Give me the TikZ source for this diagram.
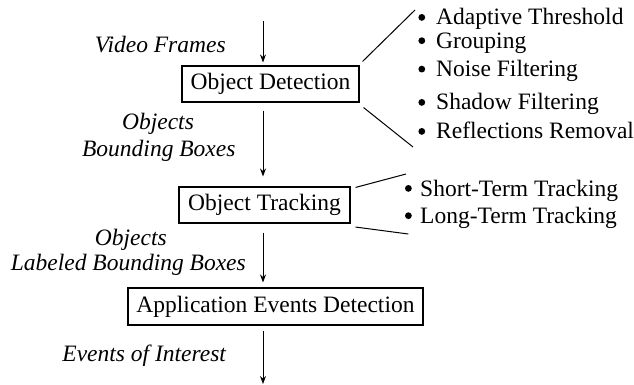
\documentclass[tikz,border=0pt]{standalone}
\usepackage{fontspec}
\setmainfont{Liberation Serif}
\usetikzlibrary{arrows.meta,calc}
\newcommand{\blt}{\raisebox{4.2pt}{\tikz\fill (0,0) circle (3.4pt);}}
\begin{document}
\begin{tikzpicture}[x=1pt,y=-1pt,
  every node/.style={font=\rmfamily\fontsize{23.5}{28}\selectfont, inner sep=0pt},
  stage/.style={draw, line width=1.1pt, minimum height=36pt},
  lbl/.style={font=\rmfamily\fontsize{23.5}{28}\selectfont\itshape, anchor=base},
  item/.style={anchor=base west},
  arr/.style={line width=0.9pt, -{Stealth[length=8pt,width=6pt]}},
  link/.style={line width=1pt}]
\useasboundingbox (0,0) rectangle (634,385);
% stages
\node[stage, minimum width=177pt] (od) at (270.5,84) {Object Detection};
\node[stage, minimum width=171pt] (ot) at (264.5,205) {Object Tracking};
\node[stage, minimum width=295pt, minimum height=37pt] (ae) at (275.5,306.5) {Application Events Detection};
% flow arrows
\coordinate (in) at (263,21);
\coordinate (out) at (263,384);
\draw[arr] (in) -- ([yshift=3pt]in |- od.north);
\draw[arr] ([yshift=-8pt]in |- od.south) -- ([yshift=10pt]in |- ot.north);
\draw[arr] ([yshift=-9pt]in |- ot.south) -- ([yshift=5pt]in |- ae.north);
\draw[arr] ([yshift=-5pt]in |- ae.south) -- (out);
% labels
\node[lbl] (vf) at (160.3,52.3) {Video Frames};
\node[lbl] (ob1) at (158,130) {Objects};
\node[lbl] (bb) at (158.8,156.7) {Bounding Boxes};
\node[lbl] (ob2) at (130.8,245) {Objects};
\node[lbl] (lbb) at (128.3,270) {Labeled Bounding Boxes};
\node[lbl] (eoi) at (144.2,361.7) {Events of Interest};
% detection sub-steps
\node[item] (d1) at (418.2,25) {\makebox[17.8pt][l]{\blt}Adaptive Threshold};
\node[item] (d2) at (418.2,48.3) {\makebox[17.8pt][l]{\blt}Grouping};
\node[item] (d3) at (418.2,76.7) {\makebox[17.8pt][l]{\blt}Noise Filtering};
\node[item] (d4) at (418.2,110) {\makebox[17.8pt][l]{\blt}Shadow Filtering};
\node[item] (d5) at (418.2,139) {\makebox[17.8pt][l]{\blt}Reflections Removal};
% tracking sub-steps
\node[item] (t1) at (404.8,196) {\makebox[15.2pt][l]{\blt}Short-Term Tracking};
\node[item] (t2) at (404.8,223.3) {\makebox[15.2pt][l]{\blt}Long-Term Tracking};
% brackets
\coordinate (dtop) at (415,10);
\coordinate (dbot) at (413,147);
\coordinate (ttop) at (406,174);
\coordinate (tbot) at (408.3,234);
\draw[link] ([shift={(3pt,4pt)}]od.north east) -- (dtop);
\draw[link] ([shift={(4pt,-5pt)}]od.south east) -- (dbot);
\draw[link] ([shift={(5pt,-1pt)}]ot.north east) -- (ttop);
\draw[link] ([shift={(5pt,-3.5pt)}]ot.south east) -- (tbot);
\end{tikzpicture}
\end{document}
